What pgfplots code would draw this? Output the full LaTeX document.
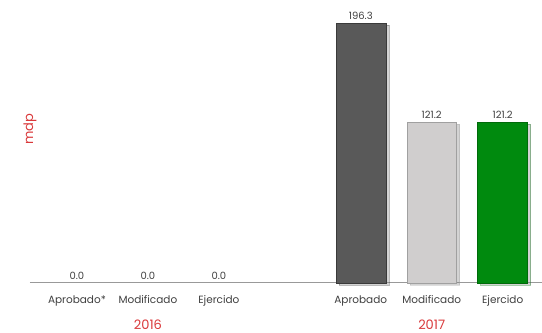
\documentclass[border=0pt]{standalone}
\usepackage{pgfplots}
\pgfplotsset{compat=1.18}
\usepackage{fontspec}
\setmainfont{Poppins}
\usetikzlibrary{shadows}
\definecolor{txt}{HTML}{404040}
\definecolor{red1}{HTML}{D9383A}
\definecolor{dark}{HTML}{595959}
\definecolor{darkb}{HTML}{3A3A3A}
\definecolor{light}{HTML}{D0CECE}
\definecolor{lightb}{HTML}{A0A0A0}
\definecolor{grn}{HTML}{008A0E}
\definecolor{grnb}{HTML}{006A0A}
\begin{document}
\begin{tikzpicture}[x=1pt,y=1pt]
\path (-30,-49) rectangle (512,283);
\begin{axis}[
  at={(0,0)}, anchor=south west,
  scale only axis, width=512pt, height=283pt,
  xmin=-0.662, xmax=6.549, ymin=0, ymax=213.6,
  axis y line=none, axis x line*=bottom,
  x axis line style={draw=gray!80, line width=0.8pt, -},
  xtick={0,1,2,4,5,6},
  xticklabels={Aprobado*,Modificado,Ejercido,Aprobado,Modificado,Ejercido},
  xtick style={draw=none},
  xticklabel style={font=\fontsize{10.5}{12}\selectfont, text=txt, yshift=-5pt},
  ybar, bar width=50pt, bar shift=0pt,
  clip=false,
  /pgf/number format/assume math mode=true,
  nodes near coords={\pgfmathprintnumber[fixed,fixed zerofill,precision=1]{\pgfplotspointmeta}},
  nodes near coords style={font=\fontsize{10}{11}\selectfont, text=txt, yshift=0pt},
]
\addplot[fill=dark, draw=darkb, drop shadow={shadow xshift=3pt, shadow yshift=-2pt, opacity=0.35}] coordinates {(4,196.3)};
\addplot[fill=light, draw=lightb, drop shadow={shadow xshift=3pt, shadow yshift=-2pt, opacity=0.35}] coordinates {(5,121.2)};
\addplot[fill=grn, draw=grnb, drop shadow={shadow xshift=3pt, shadow yshift=-2pt, opacity=0.35}] coordinates {(6,121.2)};
\addplot[draw=none, fill=none] coordinates {(0,0) (1,0) (2,0)};
\node[font=\fontsize{13}{15}\selectfont, text=red1] at (axis cs:1,0) [yshift=-42pt] {2016};
\node[font=\fontsize{13}{15}\selectfont, text=red1] at (axis cs:5,0) [yshift=-42pt] {2017};
\node[font=\fontsize{13}{15}\selectfont, text=red1, rotate=90] at (rel axis cs:0,0.59) [xshift=-13pt] {mdp};
\end{axis}
\end{tikzpicture}
\end{document}
